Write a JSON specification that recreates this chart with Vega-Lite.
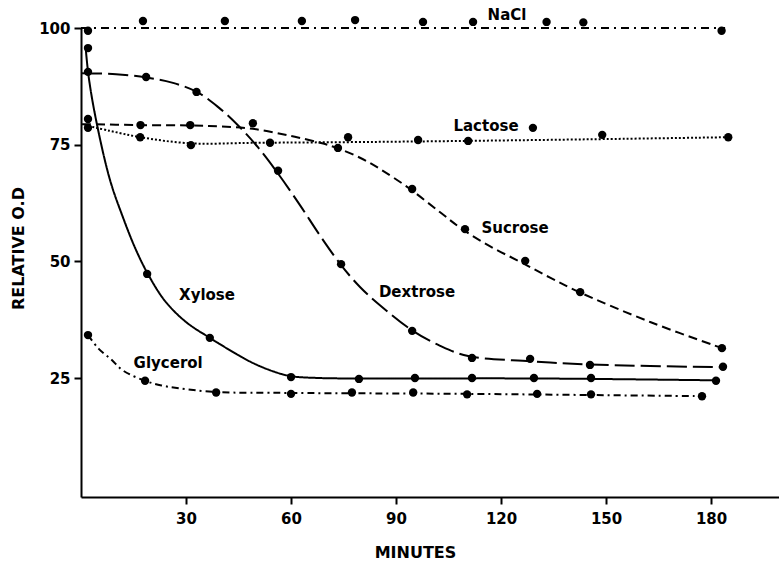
{
  "$schema": "https://vega.github.io/schema/vega-lite/v6.json",
  "width": 698,
  "height": 469,
  "autosize": {"type": "none"},
  "padding": {"left": 81, "top": 28, "right": 0, "bottom": 66},
  "background": "white",
  "config": {
    "view": {"stroke": null},
    "axis": {
      "grid": false,
      "domainColor": "black",
      "domainWidth": 2,
      "tickColor": "black",
      "tickWidth": 2,
      "tickSize": 7,
      "labelFont": "DejaVu Sans",
      "labelFontWeight": "bold",
      "labelFontSize": 15,
      "labelColor": "black",
      "titleFont": "DejaVu Sans",
      "titleFontWeight": "bold",
      "titleFontSize": 16,
      "titleColor": "black"
    }
  },
  "datasets": {
    "curves": [
      {"series": "NaCl", "t": 0, "v": 100},
      {"series": "NaCl", "t": 184, "v": 100},
      {"series": "Xylose", "t": 1.3, "v": 96},
      {"series": "Xylose", "t": 2.2, "v": 89.5},
      {"series": "Xylose", "t": 4.3, "v": 80.3},
      {"series": "Xylose", "t": 8.3, "v": 67.4},
      {"series": "Xylose", "t": 12, "v": 59.4},
      {"series": "Xylose", "t": 15.5, "v": 52.8},
      {"series": "Xylose", "t": 19.1, "v": 47.3},
      {"series": "Xylose", "t": 24, "v": 41.5},
      {"series": "Xylose", "t": 30, "v": 37.0},
      {"series": "Xylose", "t": 36.8, "v": 33.6},
      {"series": "Xylose", "t": 42, "v": 31.2},
      {"series": "Xylose", "t": 48.6, "v": 28.4},
      {"series": "Xylose", "t": 55, "v": 26.4},
      {"series": "Xylose", "t": 60, "v": 25.4},
      {"series": "Xylose", "t": 68, "v": 25.0},
      {"series": "Xylose", "t": 80, "v": 24.9},
      {"series": "Xylose", "t": 130, "v": 24.9},
      {"series": "Xylose", "t": 181.4, "v": 24.5},
      {"series": "Dextrose", "t": 0.3, "v": 90.3},
      {"series": "Dextrose", "t": 10, "v": 90.1},
      {"series": "Dextrose", "t": 18.6, "v": 89.4},
      {"series": "Dextrose", "t": 26, "v": 88.3},
      {"series": "Dextrose", "t": 33.1, "v": 86.3},
      {"series": "Dextrose", "t": 39.1, "v": 83.1},
      {"series": "Dextrose", "t": 44.9, "v": 79.1},
      {"series": "Dextrose", "t": 50.6, "v": 74.4},
      {"series": "Dextrose", "t": 56.3, "v": 68.8},
      {"series": "Dextrose", "t": 62.6, "v": 62.0},
      {"series": "Dextrose", "t": 68.3, "v": 55.5},
      {"series": "Dextrose", "t": 74.3, "v": 49.2},
      {"series": "Dextrose", "t": 79.7, "v": 44.5},
      {"series": "Dextrose", "t": 85.4, "v": 40.6},
      {"series": "Dextrose", "t": 94.6, "v": 35.2},
      {"series": "Dextrose", "t": 102.6, "v": 31.9},
      {"series": "Dextrose", "t": 110.6, "v": 29.7},
      {"series": "Dextrose", "t": 128.3, "v": 28.6},
      {"series": "Dextrose", "t": 145.4, "v": 27.9},
      {"series": "Dextrose", "t": 183.4, "v": 27.3},
      {"series": "Sucrose", "t": 0.3, "v": 79.4},
      {"series": "Sucrose", "t": 16.9, "v": 79.2},
      {"series": "Sucrose", "t": 31.4, "v": 79.1},
      {"series": "Sucrose", "t": 39.7, "v": 78.9},
      {"series": "Sucrose", "t": 49.1, "v": 78.4},
      {"series": "Sucrose", "t": 59.7, "v": 76.9},
      {"series": "Sucrose", "t": 68.3, "v": 75.4},
      {"series": "Sucrose", "t": 73.1, "v": 74.3},
      {"series": "Sucrose", "t": 79.7, "v": 72.2},
      {"series": "Sucrose", "t": 85.4, "v": 69.8},
      {"series": "Sucrose", "t": 94.0, "v": 65.5},
      {"series": "Sucrose", "t": 102.6, "v": 60.5},
      {"series": "Sucrose", "t": 108.9, "v": 56.9},
      {"series": "Sucrose", "t": 116.9, "v": 53.2},
      {"series": "Sucrose", "t": 125.7, "v": 49.8},
      {"series": "Sucrose", "t": 134.0, "v": 46.5},
      {"series": "Sucrose", "t": 142.3, "v": 43.4},
      {"series": "Sucrose", "t": 162.6, "v": 37.0},
      {"series": "Sucrose", "t": 183.1, "v": 31.4},
      {"series": "Lactose", "t": 1, "v": 79.2},
      {"series": "Lactose", "t": 8, "v": 78.0},
      {"series": "Lactose", "t": 17, "v": 76.6},
      {"series": "Lactose", "t": 31, "v": 75.3},
      {"series": "Lactose", "t": 50, "v": 75.4},
      {"series": "Lactose", "t": 85, "v": 75.6},
      {"series": "Lactose", "t": 120, "v": 75.9},
      {"series": "Lactose", "t": 150, "v": 76.2},
      {"series": "Lactose", "t": 185, "v": 76.6},
      {"series": "Glycerol", "t": 2, "v": 34.2},
      {"series": "Glycerol", "t": 5, "v": 31.3},
      {"series": "Glycerol", "t": 8.6, "v": 29.0},
      {"series": "Glycerol", "t": 12, "v": 26.6},
      {"series": "Glycerol", "t": 18.3, "v": 24.4},
      {"series": "Glycerol", "t": 23, "v": 23.4},
      {"series": "Glycerol", "t": 28, "v": 22.8},
      {"series": "Glycerol", "t": 38.6, "v": 22.0},
      {"series": "Glycerol", "t": 60, "v": 21.8},
      {"series": "Glycerol", "t": 110, "v": 21.6},
      {"series": "Glycerol", "t": 177.4, "v": 21.1}
    ],
    "points": [
      {"series": "NaCl", "t": 2, "v": 99.4},
      {"series": "NaCl", "t": 17.7, "v": 101.5},
      {"series": "NaCl", "t": 41.1, "v": 101.5},
      {"series": "NaCl", "t": 63.1, "v": 101.5},
      {"series": "NaCl", "t": 78.3, "v": 101.7},
      {"series": "NaCl", "t": 97.7, "v": 101.3},
      {"series": "NaCl", "t": 112, "v": 101.3},
      {"series": "NaCl", "t": 133, "v": 101.3},
      {"series": "NaCl", "t": 143.5, "v": 101.2},
      {"series": "NaCl", "t": 183, "v": 99.4},
      {"series": "Xylose", "t": 2, "v": 95.7},
      {"series": "Xylose", "t": 18.9, "v": 47.3},
      {"series": "Xylose", "t": 36.8, "v": 33.6},
      {"series": "Xylose", "t": 60, "v": 25.2},
      {"series": "Xylose", "t": 79.4, "v": 24.8},
      {"series": "Xylose", "t": 95.4, "v": 25},
      {"series": "Xylose", "t": 111.7, "v": 25},
      {"series": "Xylose", "t": 129.4, "v": 25},
      {"series": "Xylose", "t": 145.7, "v": 25},
      {"series": "Xylose", "t": 181.4, "v": 24.4},
      {"series": "Glycerol", "t": 2, "v": 34.2},
      {"series": "Glycerol", "t": 18.3, "v": 24.4},
      {"series": "Glycerol", "t": 38.6, "v": 21.9},
      {"series": "Glycerol", "t": 60, "v": 21.6},
      {"series": "Glycerol", "t": 77.4, "v": 21.9},
      {"series": "Glycerol", "t": 94.9, "v": 21.9},
      {"series": "Glycerol", "t": 110.3, "v": 21.5},
      {"series": "Glycerol", "t": 130.3, "v": 21.6},
      {"series": "Glycerol", "t": 145.7, "v": 21.5},
      {"series": "Glycerol", "t": 177.4, "v": 21.1},
      {"series": "Dextrose", "t": 2, "v": 90.6},
      {"series": "Dextrose", "t": 18.6, "v": 89.5},
      {"series": "Dextrose", "t": 33, "v": 86.3},
      {"series": "Dextrose", "t": 56.3, "v": 69.4},
      {"series": "Dextrose", "t": 74.3, "v": 49.4},
      {"series": "Dextrose", "t": 94.6, "v": 35.1},
      {"series": "Dextrose", "t": 111.7, "v": 29.3},
      {"series": "Dextrose", "t": 128.3, "v": 29.1},
      {"series": "Dextrose", "t": 145.4, "v": 27.8},
      {"series": "Dextrose", "t": 183.4, "v": 27.4},
      {"series": "Sucrose", "t": 2, "v": 80.5},
      {"series": "Sucrose", "t": 17, "v": 79.2},
      {"series": "Sucrose", "t": 31.2, "v": 79.2},
      {"series": "Sucrose", "t": 49.1, "v": 79.6},
      {"series": "Sucrose", "t": 73.4, "v": 74.3},
      {"series": "Sucrose", "t": 94.6, "v": 65.5},
      {"series": "Sucrose", "t": 109.7, "v": 56.9},
      {"series": "Sucrose", "t": 126.9, "v": 50.1},
      {"series": "Sucrose", "t": 142.6, "v": 43.4},
      {"series": "Sucrose", "t": 183.1, "v": 31.4},
      {"series": "Lactose", "t": 2, "v": 78.6},
      {"series": "Lactose", "t": 16.9, "v": 76.6},
      {"series": "Lactose", "t": 31.4, "v": 74.9},
      {"series": "Lactose", "t": 54, "v": 75.4},
      {"series": "Lactose", "t": 76.3, "v": 76.6},
      {"series": "Lactose", "t": 96.3, "v": 76.0},
      {"series": "Lactose", "t": 110.6, "v": 75.8},
      {"series": "Lactose", "t": 129.1, "v": 78.6},
      {"series": "Lactose", "t": 148.9, "v": 77.1},
      {"series": "Lactose", "t": 184.9, "v": 76.6}
    ],
    "labels": [
      {"label": "NaCl", "t": 121.7, "v": 102.8},
      {"label": "Lactose", "t": 115.7, "v": 79.0},
      {"label": "Sucrose", "t": 124, "v": 57.1},
      {"label": "Dextrose", "t": 96, "v": 43.4},
      {"label": "Xylose", "t": 36, "v": 42.8},
      {"label": "Glycerol", "t": 24.9, "v": 28.2}
    ]
  },
  "layer": [
    {
      "data": {"name": "curves"},
      "mark": {"type": "line", "interpolate": "catmull-rom", "color": "black", "strokeWidth": 2},
      "encoding": {
        "x": {
          "field": "t", "type": "quantitative",
          "scale": {"domain": [0, 199.4], "nice": false, "zero": false},
          "axis": {"values": [30, 60, 90, 120, 150, 180], "title": "MINUTES", "labelPadding": 7, "titleX": 334, "titleY": 60, "titleBaseline": "alphabetic", "titleAlign": "center"}
        },
        "y": {
          "field": "v", "type": "quantitative",
          "scale": {"domain": [-0.5, 100], "nice": false, "zero": false},
          "axis": {"values": [25, 50, 75, 100], "title": "RELATIVE O.D", "labelPadding": 4, "titleX": -58, "titleY": 220, "titleAngle": 270, "titleBaseline": "alphabetic", "titleAlign": "center"}
        },
        "detail": {"field": "series"},
        "strokeDash": {
          "field": "series", "type": "nominal",
          "scale": {
            "domain": ["NaCl", "Xylose", "Dextrose", "Sucrose", "Lactose", "Glycerol"],
            "range": [[8, 5, 2, 5], [1, 0], [20, 6], [9, 5], [2, 2], [7, 4, 2, 4]]
          },
          "legend": null
        }
      }
    },
    {
      "data": {"name": "points"},
      "mark": {"type": "circle", "color": "black", "opacity": 1, "size": 70},
      "encoding": {
        "x": {"field": "t", "type": "quantitative"},
        "y": {"field": "v", "type": "quantitative"}
      }
    },
    {
      "data": {"name": "labels"},
      "mark": {"type": "text", "font": "DejaVu Sans", "fontWeight": "bold", "fontSize": 15, "color": "black", "align": "center", "baseline": "middle"},
      "encoding": {
        "x": {"field": "t", "type": "quantitative"},
        "y": {"field": "v", "type": "quantitative"},
        "text": {"field": "label"}
      }
    }
  ]
}
